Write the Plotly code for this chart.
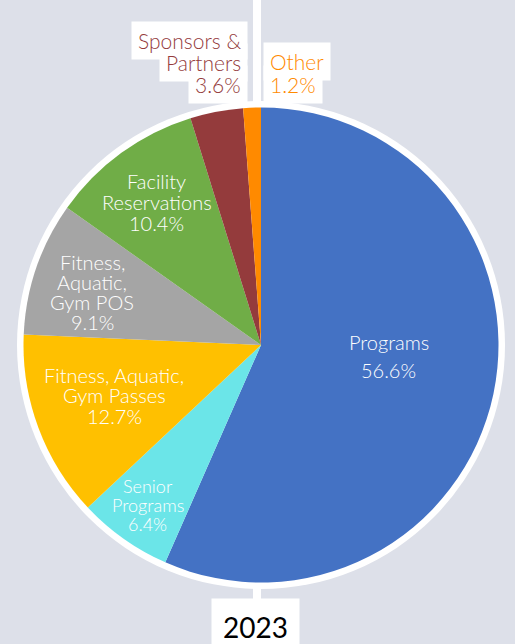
import math
import plotly.graph_objects as go

# ---------------- data ----------------
categories = ["Programs", "Senior Programs", "Fitness, Aquatic, Gym Passes",
              "Fitness, Aquatic, Gym POS", "Facility Reservations",
              "Sponsors & Partners", "Other"]
values = [56.6, 6.4, 12.7, 9.1, 10.4, 3.6, 1.2]
label_lines = [["Programs"], ["Senior", "Programs"], ["Fitness, Aquatic,", "Gym Passes"],
               ["Fitness,", "Aquatic,", "Gym POS"], ["Facility", "Reservations"],
               ["Sponsors &", "Partners"], ["Other"]]
year_label = "2023"

# ---------------- style ----------------
colors = ["#4472C4", "#6BE5E8", "#FFC000", "#A5A5A5", "#70AD47", "#943B3C", "#FF8A00"]
BG = "#DDE0E9"
FONT = "Lato"
WEIGHT = 300
W, H = 515, 644
CX, CY, R = 261, 345, 237.5
RING = 244
# inside label placement: radial factor, line spacing, font size, vertical nudge
in_rfac = [0.55, 0.825, 0.66, 0.75, 0.745]
in_space = [28, 19, 20.5, 20, 21]
in_size = [20, 18, 20, 20, 20]
in_dy = [-16, 0, -4, 5, 0]


def px(x):
    return x / W


def py(y):
    return 1 - y / H


fig = go.Figure(go.Pie(
    labels=categories, values=values, sort=False, direction="clockwise",
    rotation=0, textinfo="none", hoverinfo="label+percent",
    marker=dict(colors=colors, line=dict(width=0)),
    domain=dict(x=[px(CX - R), px(CX + R)], y=[py(CY + R), py(CY - R)]),
    showlegend=False,
))

total = sum(values)
bg_annotations = []
annotations = []
cum = 0
mids = []
for v in values:
    mids.append(2 * math.pi * (cum + v / 2) / total)
    cum += v

for i in range(5):
    a = mids[i]
    r = in_rfac[i] * R
    x0 = CX + r * math.sin(a)
    y0 = CY - r * math.cos(a) + in_dy[i]
    lines = label_lines[i] + [f"{values[i]:.1f}%"]
    n = len(lines)
    for k, t in enumerate(lines):
        yy = y0 + (k - (n - 1) / 2) * in_space[i]
        annotations.append(dict(
            x=px(x0), y=py(yy), xref="paper", yref="paper", text=t,
            showarrow=False, xanchor="center", yanchor="middle",
            font=dict(family=FONT, size=in_size[i], color="white", weight=WEIGHT)))

# outside labels (small slices) at the top, with white boxes per line
top = CY - R
out_specs = [
    (5, "right", CX - 13, [-67, -45, -23]),
    (6, "left", CX + 2, [-46, -23]),
]
for idx, anchor, xx, offs in out_specs:
    lines = label_lines[idx] + [f"{values[idx]:.1f}%"]
    for t, off in zip(lines, offs):
        base = dict(x=px(xx), y=py(top + off), xref="paper", yref="paper", text=t,
                    showarrow=False, xanchor=anchor, yanchor="middle", align=anchor,
                    borderpad=6)
        bg_annotations.append(dict(base, bgcolor="white",
                                   font=dict(family=FONT, size=21, color="white", weight=WEIGHT)))
        annotations.append(dict(base,
                                font=dict(family=FONT, size=21, color=colors[idx], weight=WEIGHT)))

annotations.append(dict(
    x=px(255), y=py(627), xref="paper", yref="paper", text=year_label,
    showarrow=False, xanchor="center", yanchor="middle",
    bgcolor="white", borderpad=11,
    font=dict(family=FONT, size=28, color="black")))

shapes = [
    dict(type="circle", xref="paper", yref="paper", layer="below",
         x0=px(CX - RING), x1=px(CX + RING), y0=py(CY + RING), y1=py(CY - RING),
         fillcolor="white", line=dict(width=0)),
    dict(type="rect", xref="paper", yref="paper", layer="below",
         x0=px(253), x1=px(261), y0=py(CY - RING + 3), y1=py(-2),
         fillcolor="white", line=dict(width=0)),
    dict(type="rect", xref="paper", yref="paper", layer="below",
         x0=px(253), x1=px(261), y0=py(610), y1=py(CY + RING - 3),
         fillcolor="white", line=dict(width=0)),
]

fig.update_layout(
    width=W, height=H, margin=dict(l=0, r=0, t=0, b=0),
    paper_bgcolor=BG, plot_bgcolor=BG,
    annotations=bg_annotations + annotations, shapes=shapes,
)

fig.write_html("out.html", config={"displayModeBar": False},
               post_script="document.body.style.margin='0';document.body.style.overflow='hidden';")
